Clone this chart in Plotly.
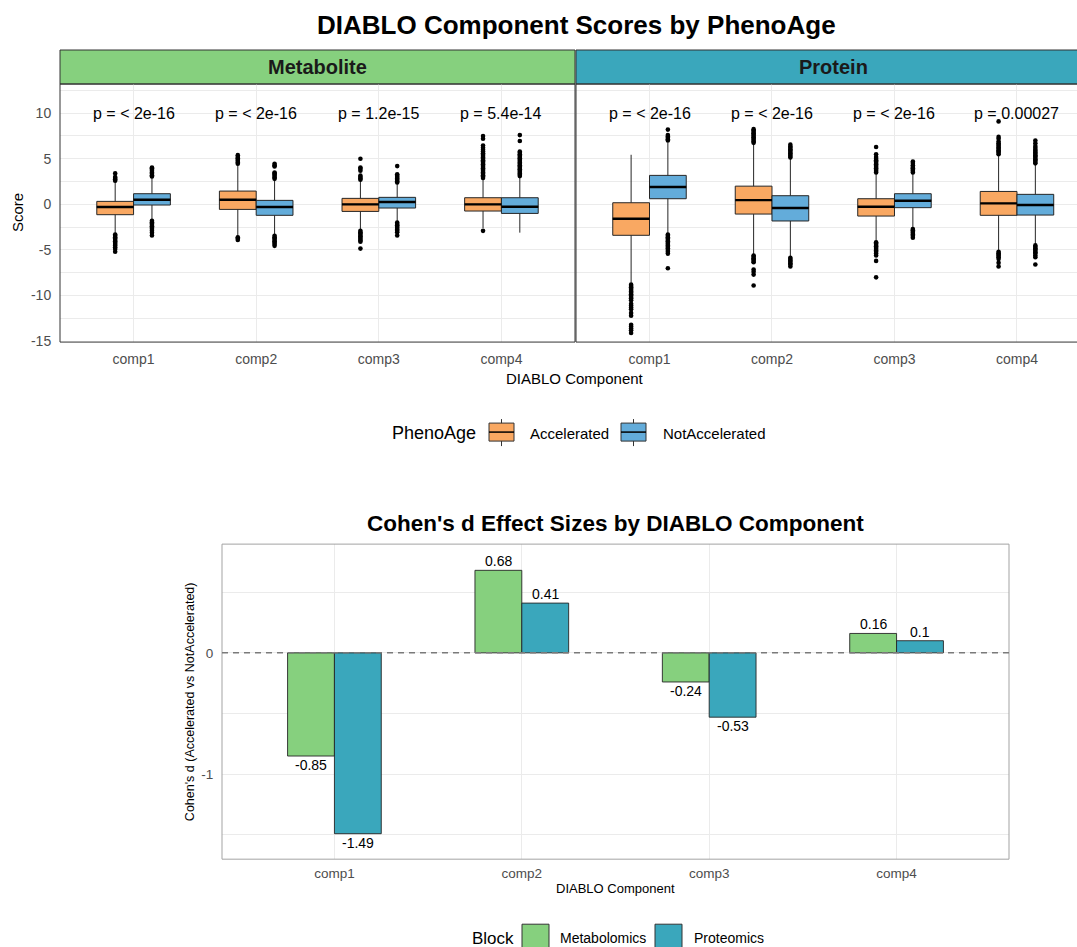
import plotly.graph_objects as go

W, H = 1077, 947
FONT = "Liberation Sans, Arial, Helvetica, sans-serif"

components = ["comp1", "comp2", "comp3", "comp4"]
facet_blocks = ["Metabolite", "Protein"]
phenoage_groups = ["Accelerated", "NotAccelerated"]
score_ticks = [-15, -10, -5, 0, 5, 10]
score_tick_text = ["-15", "-10", "-5", "0", "5", "10"]

# p-values of the Accelerated vs NotAccelerated comparison per component
p_labels_metabolite = ["p = < 2e-16", "p = < 2e-16", "p = 1.2e-15", "p = 5.4e-14"]
p_labels_protein = ["p = < 2e-16", "p = < 2e-16", "p = < 2e-16", "p = 0.00027"]

# ---- Metabolite block, Accelerated ----
met_acc_lower = [-3.2, -3.55, -2.8, -2.6]
met_acc_q1 = [-1.13, -0.55, -0.77, -0.73]
met_acc_median = [-0.29, 0.51, 0.0, 0.0]
met_acc_q3 = [0.33, 1.46, 0.66, 0.73]
met_acc_upper = [2.45, 4.3, 2.6, 2.8]
met_acc_outliers = [
    [2.6, 2.75, 2.9, 3.0, 3.4, -3.3, -3.45, -3.6, -3.75, -3.9, -4.05, -4.2, -4.35, -4.5, -4.7, -4.9, -5.2],
    [4.45, 4.6, 4.75, 4.9, 5.05, 5.2, 5.4, -3.6, -3.75, -3.9],
    [2.7, 2.85, 3.0, 3.15, 3.7, 3.9, 4.05, 5.0, -2.9, -3.05, -3.2, -3.35, -3.5, -3.65, -3.8, -3.95, -4.1, -4.85],
    [2.9, 3.05, 3.2, 3.35, 3.5, 3.65, 3.8, 3.95, 4.1, 4.25, 4.4, 4.55, 4.7, 4.85, 5.0, 5.15, 5.3, 5.45,
     5.6, 5.8, 6.0, 6.2, 6.45, 7.2, 7.5, -2.9],
]

# ---- Metabolite block, NotAccelerated ----
met_not_lower = [-1.7, -3.3, -1.9, -3.1]
met_not_q1 = [-0.07, -1.2, -0.4, -0.99]
met_not_median = [0.51, -0.29, 0.26, -0.26]
met_not_q3 = [1.17, 0.44, 0.77, 0.73]
met_not_upper = [2.95, 2.7, 2.3, 3.0]
met_not_outliers = [
    [3.05, 3.2, 3.35, 3.5, 3.65, 3.8, 3.95, 4.05, -1.8, -1.95, -2.1, -2.25, -2.4, -2.55, -2.7, -2.9, -3.1, -3.4],
    [2.8, 2.95, 3.1, 3.25, 3.4, 3.5, 4.15, 4.3, 4.45, -3.45, -3.6, -3.75, -3.9, -4.05, -4.2, -4.35, -4.55],
    [2.4, 2.55, 2.7, 2.85, 3.0, 3.15, 3.3, 4.2, -2.0, -2.15, -2.3, -2.45, -2.6, -2.75, -2.9, -3.05, -3.4],
    [3.1, 3.25, 3.4, 3.55, 3.7, 3.85, 4.0, 4.15, 4.3, 4.45, 4.6, 4.75, 4.9, 5.05, 5.2, 5.35, 5.5, 5.65,
     5.8, 6.95, 7.6],
]

# ---- Protein block, Accelerated ----
prot_acc_lower = [-8.6, -5.5, -4.1, -5.1]
prot_acc_q1 = [-3.39, -1.06, -1.28, -1.2]
prot_acc_median = [-1.57, 0.47, -0.26, 0.11]
prot_acc_q3 = [0.18, 2.0, 0.62, 1.42]
prot_acc_upper = [5.44, 6.6, 3.4, 5.3]
prot_acc_outliers = [
    [-8.8, -8.95, -9.1, -9.25, -9.4, -9.55, -9.7, -9.85, -10.0, -10.15, -10.3, -10.5, -10.9, -11.1, -11.3,
     -11.5, -11.9, -12.2, -13.2, -13.4, -13.6, -13.8, -14.1],
    [6.75, 6.9, 7.05, 7.2, 7.35, 7.5, 7.65, 7.8, 7.95, 8.1, 8.25, -5.6, -5.75, -5.9, -6.05, -6.2, -6.35,
     -7.15, -7.4, -7.7, -8.9],
    [3.5, 3.65, 3.8, 3.95, 4.1, 4.25, 4.4, 4.55, 4.7, 4.85, 5.0, 5.2, 5.5, 6.3, -4.15, -4.3, -4.45, -4.6,
     -4.75, -4.9, -5.05, -5.2, -5.4, -5.6, -6.2, -8.0],
    [5.5, 5.65, 5.8, 5.95, 6.1, 6.25, 6.4, 6.55, 6.7, 6.9, 7.2, 7.4, 9.1, -5.2, -5.35, -5.5, -5.65, -5.8,
     -6.0, -6.4, -6.8],
]

# ---- Protein block, NotAccelerated ----
prot_not_lower = [-3.2, -5.7, -2.6, -4.4]
prot_not_q1 = [0.62, -1.82, -0.36, -1.17]
prot_not_median = [1.9, -0.4, 0.4, -0.07]
prot_not_q3 = [3.18, 0.95, 1.17, 1.1]
prot_not_upper = [6.8, 5.0, 3.4, 4.4]
prot_not_outliers = [
    [7.0, 7.15, 7.3, 7.45, 7.6, 8.2, -3.3, -3.45, -3.6, -3.75, -3.9, -4.05, -4.2, -4.35, -4.5, -4.65, -4.8,
     -5.0, -5.2, -5.4, -7.0],
    [5.15, 5.3, 5.45, 5.6, 5.75, 5.9, 6.05, 6.2, 6.35, 6.55, -5.85, -6.0, -6.15, -6.3, -6.45, -6.6, -6.8],
    [3.5, 3.65, 3.8, 3.95, 4.1, 4.3, 4.55, 4.7, -2.7, -2.85, -3.0, -3.15, -3.3, -3.45, -3.65],
    [4.5, 4.65, 4.8, 4.95, 5.1, 5.25, 5.4, 5.55, 5.7, 5.85, 6.0, 6.2, 6.4, 6.7, 7.0, -4.5, -4.65, -4.8,
     -4.95, -5.1, -5.25, -5.4, -5.6, -5.8, -6.6],
]

# ---- Cohen's d effect sizes ----
blocks = ["Metabolomics", "Proteomics"]
cohen_metabolomics = [-0.85, 0.68, -0.24, 0.16]
cohen_proteomics = [-1.49, 0.41, -0.53, 0.10]

ORANGE = "#F9A862"
BLUE = "#63ACDA"
GREEN = "#86D07E"
TEAL = "#3AA7BC"
EDGE = "#262626"
GRID = "#EBEBEB"
BOX_W = 0.3
BAR_W = 0.25

# vertical layout grid (rows in page pixels)
ROWS = H * 0.9924


def px(x):
    return x / W


def py(y):
    return 1 - y / ROWS


fig = go.Figure()

box_sets = [
    ("x", "y", -BOX_W / 2, ORANGE, met_acc_lower, met_acc_q1, met_acc_median, met_acc_q3, met_acc_upper, met_acc_outliers),
    ("x", "y", BOX_W / 2, BLUE, met_not_lower, met_not_q1, met_not_median, met_not_q3, met_not_upper, met_not_outliers),
    ("x2", "y2", -BOX_W / 2, ORANGE, prot_acc_lower, prot_acc_q1, prot_acc_median, prot_acc_q3, prot_acc_upper, prot_acc_outliers),
    ("x2", "y2", BOX_W / 2, BLUE, prot_not_lower, prot_not_q1, prot_not_median, prot_not_q3, prot_not_upper, prot_not_outliers),
]

for xa, ya, offset, color, lo, q1, med, q3, hi, outs in box_sets:
    pos = [i + offset for i in range(len(components))]
    fig.add_trace(go.Box(
        x=pos, q1=q1, median=med, q3=q3, lowerfence=lo, upperfence=hi,
        width=BOX_W, fillcolor=color, line=dict(color=EDGE, width=1),
        whiskerwidth=0, boxpoints=False, showlegend=False,
        xaxis=xa, yaxis=ya, hoverinfo="skip",
    ))
    # thicker median bar, as in ggplot boxplots
    mx, my = [], []
    for p, m in zip(pos, med):
        mx += [p - BOX_W / 2, p + BOX_W / 2, None]
        my += [m, m, None]
    fig.add_trace(go.Scatter(
        x=mx, y=my, mode="lines", line=dict(color="#000000", width=2.4),
        showlegend=False, xaxis=xa, yaxis=ya, hoverinfo="skip",
    ))
    ox, oy = [], []
    for p, vals in zip(pos, outs):
        ox += [p] * len(vals)
        oy += vals
    fig.add_trace(go.Scatter(
        x=ox, y=oy, mode="markers", marker=dict(color="#000000", size=4.6),
        showlegend=False, xaxis=xa, yaxis=ya, hoverinfo="skip",
    ))

# Cohen's d bars
bar_sets = [(blocks[0], cohen_metabolomics, GREEN, -BAR_W / 2), (blocks[1], cohen_proteomics, TEAL, BAR_W / 2)]
for name, vals, color, _ in bar_sets:
    fig.add_trace(go.Bar(
        x=components, y=vals, name=name, marker=dict(color=color, line=dict(color=EDGE, width=0.9)),
        showlegend=False, xaxis="x3", yaxis="y3", hoverinfo="skip",
    ))

axis_common = dict(
    showline=False, zeroline=False, showgrid=True, gridcolor=GRID, gridwidth=1,
    ticks="outside", ticklen=4, tickcolor="rgba(0,0,0,0)",
    tickfont=dict(family=FONT, size=14, color="#4D4D4D"),
)

fig.update_layout(
    width=W, height=H,
    margin=dict(l=0, r=0, t=0, b=0),
    paper_bgcolor="white", plot_bgcolor="white",
    font=dict(family=FONT, color="#000000"),
    barmode="group", bargap=0.5, bargroupgap=0,
    showlegend=False,
    xaxis=dict(domain=[px(60), px(575)], range=[-0.6, 3.6], anchor="y",
               tickvals=list(range(len(components))), ticktext=components, **axis_common),
    yaxis=dict(domain=[py(342), py(84)], range=[-15.1, 13.2], anchor="x",
               tickvals=score_ticks, ticktext=score_tick_text,
               minor=dict(tickvals=[-12.5, -7.5, -2.5, 2.5, 7.5, 12.5], showgrid=True,
                          gridcolor=GRID, gridwidth=0.6, ticks=""),
               **{**axis_common, "ticklen": 5}),
    xaxis2=dict(domain=[px(576), 1.0], range=[-0.6, 3.49], anchor="y2",
                tickvals=list(range(len(components))), ticktext=components, **axis_common),
    yaxis2=dict(domain=[py(342), py(84)], range=[-15.1, 13.2], anchor="x2", matches="y",
                showticklabels=False, tickvals=score_ticks,
                minor=dict(tickvals=[-12.5, -7.5, -2.5, 2.5, 7.5, 12.5], showgrid=True,
                           gridcolor=GRID, gridwidth=0.6, ticks=""),
                **{k: v for k, v in axis_common.items() if k != "tickfont"}),
    xaxis3=dict(domain=[px(222), px(1009)], range=[-0.6, 3.6], anchor="y3", type="category",
                **{**axis_common, "ticklen": 2, "tickfont": dict(family=FONT, size=13.5, color="#4D4D4D")}),
    yaxis3=dict(domain=[py(859), py(544)], range=[-1.70, 0.896], anchor="x3",
                tickvals=[-1, 0], ticktext=["-1", "0"],
                minor=dict(tickvals=[-1.5, -0.5, 0.5], showgrid=True, gridcolor=GRID,
                           gridwidth=0.6, ticks=""),
                **{**axis_common, "ticklen": 5, "tickfont": dict(family=FONT, size=13.5, color="#4D4D4D")}),
)

shapes = []
# facet strips
strip_fills = [GREEN, TEAL]
strip_spans = [(px(60), px(575)), (px(576), 1.03)]
for (x0, x1), fill in zip(strip_spans, strip_fills):
    shapes.append(dict(type="rect", xref="paper", yref="paper", x0=x0, x1=x1, y0=py(84), y1=py(50),
                       fillcolor=fill, line=dict(color="#333333", width=1), layer="below"))
# panel borders
shapes.append(dict(type="rect", xref="x domain", yref="y domain", x0=0, x1=1, y0=0, y1=1,
                   line=dict(color="#333333", width=1), fillcolor="rgba(0,0,0,0)", layer="above"))
shapes.append(dict(type="rect", xref="x2 domain", yref="y2 domain", x0=0, x1=1.05, y0=0, y1=1,
                   line=dict(color="#333333", width=1), fillcolor="rgba(0,0,0,0)", layer="above"))
shapes.append(dict(type="rect", xref="x3 domain", yref="y3 domain", x0=0, x1=1, y0=0, y1=1,
                   line=dict(color="#A3A3A3", width=1), fillcolor="rgba(0,0,0,0)", layer="above"))
# zero reference line
shapes.append(dict(type="line", xref="x3 domain", yref="y3", x0=0, x1=1, y0=0, y1=0,
                   line=dict(color="#7A7A7A", width=1.5, dash="6px,5px"), layer="above"))

# legend keys: PhenoAge (box glyphs)
for x0, fill in [(489, ORANGE), (621, BLUE)]:
    xc = x0 + 12.5
    shapes.append(dict(type="line", xref="paper", yref="paper", x0=px(xc), x1=px(xc), y0=py(419), y1=py(446),
                       line=dict(color="#333333", width=1)))
    shapes.append(dict(type="rect", xref="paper", yref="paper", x0=px(x0), x1=px(x0 + 25), y0=py(441), y1=py(423),
                       fillcolor=fill, line=dict(color="#333333", width=1)))
    shapes.append(dict(type="line", xref="paper", yref="paper", x0=px(x0), x1=px(x0 + 25), y0=py(432), y1=py(432),
                       line=dict(color="#000000", width=1.5)))
# legend keys: Block (filled squares)
for x0, fill in [(522, GREEN), (655, TEAL)]:
    shapes.append(dict(type="rect", xref="paper", yref="paper", x0=px(x0), x1=px(x0 + 27), y0=py(960), y1=py(924),
                       fillcolor=fill, line=dict(color="#333333", width=1)))

fig.update_layout(shapes=shapes)

ann = []


def text(x, y, s, size, bold=False, color="#000000", xanchor="center", yanchor="middle", angle=0,
         xref="paper", yref="paper", yshift=0):
    ann.append(dict(x=x, y=y, xref=xref, yref=yref, text=f"<b>{s}</b>" if bold else s, showarrow=False,
                    xanchor=xanchor, yanchor=yanchor, textangle=angle, yshift=yshift,
                    font=dict(family=FONT, size=size, color=color)))


text(px(576), py(25), "DIABLO Component Scores by PhenoAge", 26, bold=True)
text(px(317.5), py(67), facet_blocks[0], 20, bold=True, color="#1A1A1A")
text(px(833), py(67), facet_blocks[1], 20, bold=True, color="#1A1A1A")
for i, lab in enumerate(p_labels_metabolite):
    text(i, 10, lab, 16, xref="x", yref="y")
for i, lab in enumerate(p_labels_protein):
    text(i, 10, lab, 16, xref="x2", yref="y2")
text(px(575), py(378), "DIABLO Component", 15)
text(px(17), py(213), "Score", 15, angle=-90)

text(px(390), py(433), "PhenoAge", 18, xanchor="left")
text(px(528), py(433), phenoage_groups[0], 15, xanchor="left")
text(px(661), py(433), phenoage_groups[1], 15, xanchor="left")

# value labels just beyond each bar end
for _, vals, _, offset in bar_sets:
    for i, v in enumerate(vals):
        text(i + offset, v, f"{v:g}", 14, xref="x3", yref="y3",
             yanchor="bottom" if v >= 0 else "top", yshift=-1 if v >= 0 else 1)

text(px(615.5), py(523), "Cohen's d Effect Sizes by DIABLO Component", 22.5, bold=True)
text(px(615.5), py(888), "DIABLO Component", 13)
text(px(190), py(702), "Cohen's d (Accelerated vs NotAccelerated)", 12.5, angle=-90)

text(px(470), py(938), "Block", 17, xanchor="left")
text(px(558), py(938), blocks[0], 14, xanchor="left")
text(px(692), py(938), blocks[1], 14, xanchor="left")

fig.update_layout(annotations=ann)

fig.write_html("out.html")
